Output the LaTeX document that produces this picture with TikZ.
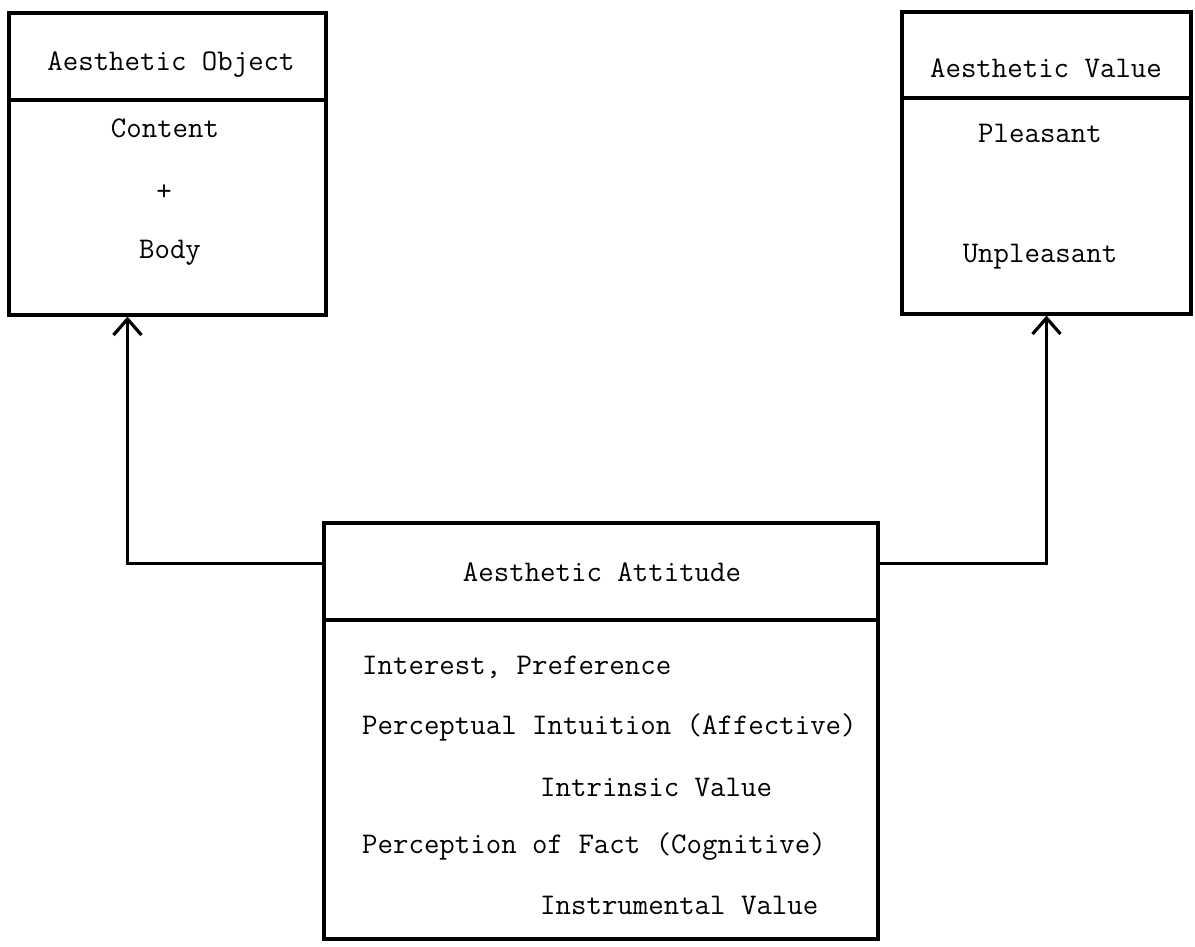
\documentclass[tikz,border=0pt]{standalone}
\usetikzlibrary{calc}
\usetikzlibrary{arrows.meta}
\newcommand*{\lw    }{3.2pt}
\newcommand*{\txtsz }{\fontsize{30}{36}\selectfont}

\begin{document}
\begin{tikzpicture}[x=1pt, y=-1pt, font=\ttfamily\txtsz,
    box/.style={draw, line width=\lw, inner sep=0pt},
    conn/.style={line width=\lw, -{Straight Barb[length=16pt, width=28pt, line width=\lw]}},
    txt/.style={inner sep=0pt}]
    \useasboundingbox (0,0) rectangle (1195,946);
        \node [box, minimum width=317, minimum height=302] (object)   at ( 167.5,164) {};
        \node [box, minimum width=289, minimum height=302] (value)    at (1046.5,163) {};
        \node [box, minimum width=554, minimum height=416] (attitude) at ( 601  ,731) {};
        \draw [line width=\lw] (object.west   |- 0,100) -- (object.east   |- 0,100);
        \draw [line width=\lw] (value.west    |- 0, 98) -- (value.east    |- 0, 98);
        \draw [line width=\lw] (attitude.west |- 0,620) -- (attitude.east |- 0,620);
        % titles
        \node [txt] (objtitle) at ( 171,65) {Aesthetic Object};
        \node [txt] (valtitle) at (1046,68) {Aesthetic Value};
        \node [txt] (atttitle) at ( 602,572) {Aesthetic Attitude};
        % contents
        \node [txt] (content)  at ( 165,128) {Content};
        \node [txt] (plus)     at ( 164,193) {+};
        \node [txt] (body)     at ( 170,253) {Body};
        \node [txt] (pleasant) at (1040,133) {Pleasant};
        \node [txt] (unpleas)  at (1040,257) {Unpleasant};
        \node [txt, anchor=west] (interest)  at (362,667) {Interest, Preference};
        \node [txt, anchor=west] (intuition) at (362,727) {Perceptual Intuition (Affective)};
        \node [txt, anchor=west] (intrinsic) at (540,787) {Intrinsic Value};
        \node [txt, anchor=west] (fact)      at (362,847) {Perception of Fact (Cognitive)};
        \node [txt, anchor=west] (instrum)   at (540,905) {Instrumental Value};
        % connectors
        \coordinate (objfoot) at ($(object.south west)!0.375!(object.south east)$);
        \draw [conn] ($(attitude.north west)+(0,42)$) -| (objfoot);
        \draw [conn] ($(attitude.north east)+(0,42)$) -| (value.south);
    \end{tikzpicture}
\end{document}
